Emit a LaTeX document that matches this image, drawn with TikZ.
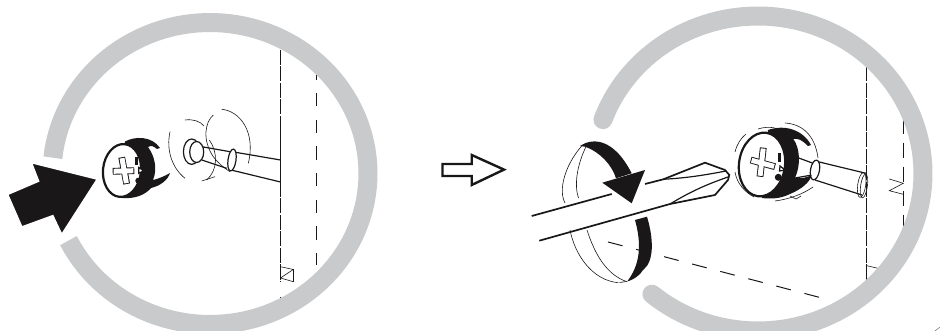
\documentclass[tikz,border=0pt]{standalone}
\usepackage{tikz}
\definecolor{ringgray}{HTML}{C8CACC}
\definecolor{inkblack}{HTML}{1A1718}

\begin{document}
\begin{tikzpicture}[
    x=1pt, y=-1pt,
    ring/.style={draw=ringgray, line width=19pt},
    thinline/.style={draw=inkblack, line width=0.6pt},
    midline/.style={draw=inkblack, line width=1.2pt},
    heavyline/.style={draw=inkblack, line width=2.2pt},
    inkfill/.style={fill=inkblack, draw=none},
    wallline/.style={draw=inkblack, line width=1pt, dash pattern=on 15pt off 1.5pt},
    backline/.style={draw=inkblack, line width=1pt, dash pattern=on 13.3pt off 13.4pt},
    crossedge/.style={draw=inkblack, line width=6.8pt},
    crossface/.style={draw=white, line width=5pt}
]
\useasboundingbox (0,0) rectangle (940,331);

% wall, left
\draw[wallline] (280.5,50) -- (280.5,282);
\draw[midline] (280.5,297) -- (280.5,302);
\draw[midline] (280.5,130) -- (280.5,182);
\draw[backline, dash phase=8.7pt] (316,75) -- (316,265);
\draw[thinline] (280.5,266.7) -- (293.3,269.5) -- (280.5,278) -- (293.3,281.7);
\draw[thinline] (293.3,269.5) -- (293.3,281.7);

% pin, left
\draw[midline] (232,151.7) -- (280.5,160);
\draw[midline] (229,169.5) -- (280.5,182);
\draw[midline] (201.7,146.7) -- (230,151.7);
\draw[midline] (201.7,160) -- (226.7,168.3);
\draw[midline, fill=white, rotate around={-8:(232,160)}] (232,160) ellipse (4pt and 11pt);
\draw[midline, fill=white] (191.7,151.7) ellipse (8.3pt and 12.7pt);
\draw[midline, fill=white] (196.7,152) ellipse (7pt and 10.5pt);

% motion arcs, left
\draw[thinline] (185,120) .. controls (193,119) and (200,121) .. (204,126);
\draw[thinline] (170,131.7) .. controls (166,150) and (172,168) .. (185,178.3);
\draw[thinline] (213.3,115) .. controls (205,122) and (202,140) .. (213.3,156.7) .. controls (218,163) and (224,168) .. (230,171.7);
\draw[thinline] (221.7,109.3) .. controls (240,111) and (256,132) .. (248.3,163.3);
\draw[thinline] (209.3,140) .. controls (218,152) and (218,170) .. (206.7,180);
\draw[thinline] (201.7,181) -- (215,176.7);

% cam, left
\path[inkfill] (125,141.5) .. controls (135,136) and (152,136) .. (160,148) -- (157,149) .. controls (153,146) and (152,145) .. (148,147) .. controls (154,155) and (158,168) .. (153,180) .. controls (158,179) and (165,176) .. (170,173) .. controls (168,180) and (160,186) .. (151,188) .. controls (145,195) and (135,199) .. (122,198) -- cycle;
\draw[heavyline, fill=white, rotate around={-6:(122,170.5)}] (122,170.5) ellipse (19pt and 26.5pt);
\draw[crossedge] (121.7,157.3) -- (126.7,184);
\draw[crossedge] (112.7,171.3) -- (134.3,170.7);
\draw[crossface] (122,158.2) -- (126.4,183.1);
\draw[crossface] (113.6,171.3) -- (133.4,170.7);
\path[inkfill] (135,156.7) rectangle (138.3,165);
\draw[midline, fill=white] (138.8,167.5) -- (143.5,170.7) -- (138.8,173.3) -- cycle;
\path[inkfill] (138.3,180.7) circle (3pt);

% left ring
\draw[ring] plot[domain=186:513.6, samples=120] ({210+158*cos(\x)},{173.5+151*sin(\x)});

% push arrow
\draw[inkfill, draw=white, line width=2pt] (97.7,179) -- (31,162.3) -- (38.3,181) -- (7.3,194.3) -- (21.7,227.3) -- (52.7,216) -- (61.7,235) -- cycle;

% step arrow
\draw[draw=inkblack, line width=2.4pt, fill=white, line join=miter] (442.5,164) -- (471.7,164) -- (471.7,155) -- (504,169.6) -- (471.7,185) -- (471.7,176) -- (442.5,176) -- cycle;

% wall, right
\draw[wallline] (866,50) -- (866,281);
\draw[backline, dash pattern=on 15pt off 9pt] (903.5,119) -- (903.5,233);
\draw[thinline] (866,265.5) -- (880,268.8);
\draw[thinline] (866,280) -- (875,275);
\draw[thinline] (889.3,179) -- (903.3,183.3) -- (889.3,190.7) -- (903.3,194.3);
\draw[backline, dash pattern=on 15pt off 14pt] (608,242) -- (829.5,300);

% pin, right
\draw[midline] (818,161.7) -- (866,173.3);
\draw[midline] (815,180) -- (862,195);
\draw[midline] (796,157) -- (815,164);
\draw[midline] (795,178) -- (812,175);
\draw[midline, fill=white, rotate around={-10:(815,170)}] (815,170) ellipse (4.5pt and 10pt);
\draw[thinline, rotate around={-8:(861.7,185)}] (861.7,185) ellipse (4pt and 12.5pt);
\draw[thinline, rotate around={-8:(864,186)}] (864,186) ellipse (3.4pt and 12pt);

% cam, right
\path[inkfill] (768,130) .. controls (785,124) and (803,130) .. (811,145) -- (808,146) .. controls (802,140) and (798,138) .. (793.3,139) .. controls (800,148) and (801,165) .. (795,178) .. controls (802,179) and (808,177) .. (811.7,175) .. controls (810,182) and (802,189) .. (790,194) .. controls (780,199) and (770,199) .. (762,198) -- cycle;
\draw[heavyline, fill=white, rotate around={-8:(762,164.5)}] (762,164.5) ellipse (23pt and 32pt);
\draw[crossedge] (763.3,147.7) -- (760,176.7);
\draw[crossedge] (750.7,160) -- (775,166.7);
\draw[crossface] (763.2,148.6) -- (760.1,175.8);
\draw[crossface] (751.6,160.3) -- (774.1,166.4);
\path[inkfill] (778,153.3) rectangle (781,161.7);
\draw[midline, fill=white] (780,166) -- (785,170) -- (779.5,171) -- cycle;
\path[inkfill] (778.3,177.3) circle (3.5pt);

% motion arcs, right
\draw[thinline] (735,152) .. controls (737,144) and (741,138) .. (746,134);
\draw[thinline] (735,172) .. controls (737,184) and (745,192) .. (754,197);
\draw[thinline] (758,129) .. controls (764,127) and (770,127) .. (775,128);
\draw[thinline] (785,123) .. controls (802,124) and (815,135) .. (818,158);
\draw[thinline] (775,201) .. controls (790,199) and (803,194) .. (813,187);
\draw[thinline] (790,196) -- (796,199) -- (801,196);

% right ring
\draw[ring, line cap=round] plot[domain=200:490, samples=120] ({758+165*cos(\x)},{173.5+157.5*sin(\x)});
\draw[thinline, draw=gray] (935,331) -- (940,327);

% rotation band
\draw[thinline] (581.7,146) .. controls (565,165) and (558,190) .. (565,203);
\draw[thinline] (586,146.7) .. controls (577,165) and (574,185) .. (578.5,198);
\draw[thinline] (570,230) .. controls (575,255) and (592,280) .. (618,282.7);
\draw[thinline] (587,230) .. controls (595,255) and (607,275) .. (627,281.7);
\path[inkfill] (580,146) .. controls (590,139) and (612,135) .. (631.7,173.3) -- (616,178.3) .. controls (612,165) and (600,152) .. (585,146.7) -- cycle;
\path[inkfill] (602.3,182.7) -- (645,170) -- (631.7,203.3) -- cycle;
\path[inkfill] (635,220) -- (647,216.7) .. controls (654,240) and (654,262) .. (643,270) .. controls (638,278) and (628,283) .. (618,282.7) .. controls (625,281) and (628,281) .. (627,281.7) .. controls (640,265) and (642,245) .. (635,220) -- cycle;

% screwdriver
\draw[draw=inkblack, line width=1.7pt] (531.7,216) -- (611.7,194);
\draw[draw=inkblack, line width=1.7pt] (645,184) -- (663.3,179.3) -- (705,162.7) -- (725,170) -- (729.3,175) -- (728,180) -- (715,195) -- (670,204) -- (539.3,240.7);
\draw[midline] (663.3,179.3) .. controls (685,178) and (700,176) .. (726,171);
\draw[midline] (670,204) .. controls (690,192) and (705,185) .. (728,177);

\end{tikzpicture}
\end{document}
